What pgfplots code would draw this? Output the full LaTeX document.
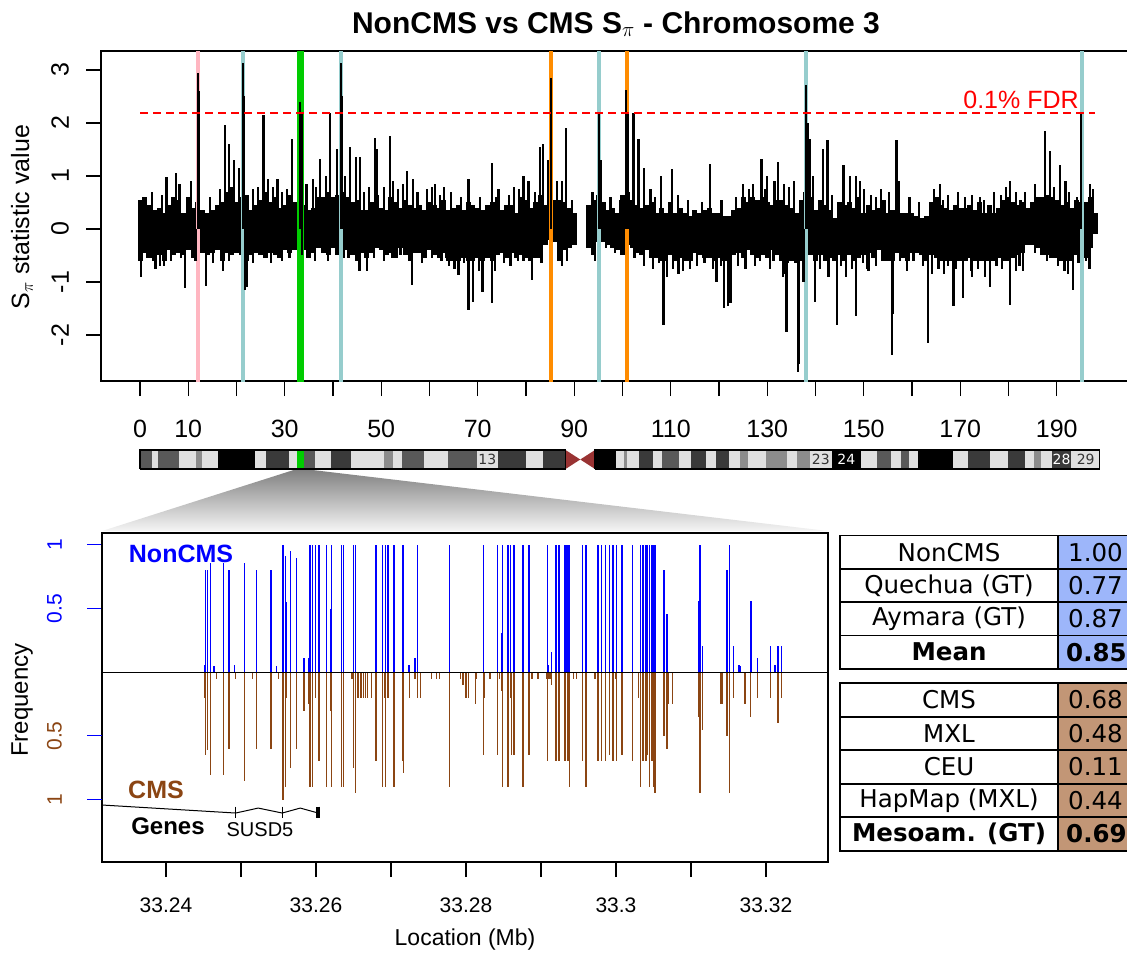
\documentclass[border=0pt]{standalone}
\usepackage{pgfplots}
\usepackage{pgfplotstable}
\pgfplotsset{compat=1.18}
\usepackage{fontspec}
\setmainfont{Liberation Sans}
\newfontfamily\dejavu{DejaVu Sans}
\newcommand{\fs}[1]{\fontsize{#1}{#1}\selectfont}

\definecolor{cmsbrown}{HTML}{8B4513}
\definecolor{hlpink}{HTML}{FFB6C1}
\definecolor{hlteal}{HTML}{96CDCD}
\definecolor{hlgreen}{HTML}{00CC00}
\definecolor{hlorange}{HTML}{FF8C00}
\definecolor{bandA}{HTML}{595959}
\definecolor{bandB}{HTML}{3A3A3A}
\definecolor{bandC}{HTML}{8C8C8C}
\definecolor{bandL}{HTML}{E0E0E0}
\definecolor{cenred}{HTML}{993333}
\definecolor{tabblue}{HTML}{9DB6FA}
\definecolor{tabbrown}{HTML}{C29676}

% S_pi along chromosome 3: per-Mb upper and lower envelope of the dense core
\pgfplotstableread{
x hi lo
0 0.55 -0.6
1 0.6 -0.45
2 0.45 -0.55
3 0.35 -0.6
4 0.4 -0.5
5 0.3 -0.6
6 0.45 -0.4
7 0.6 -0.5
8 0.55 -0.45
9 0.3 -0.5
10 0.6 -0.4
11 0.4 -0.55
12 0.5 -0.5
13 0.35 -0.45
14 0.3 -0.5
15 0.35 -0.45
16 0.45 -0.4
17 0.5 -0.6
18 0.7 -0.45
19 0.8 -0.5
20 0.5 -0.45
21 0.6 -0.5
22 0.65 -0.6
23 0.35 -0.5
24 0.45 -0.45
25 0.55 -0.5
26 0.7 -0.55
27 0.5 -0.45
28 0.6 -0.5
29 0.4 -0.55
30 0.45 -0.4
31 0.65 -0.45
32 0.5 -0.4
33 0.7 -0.35
34 0.45 -0.4
35 0.35 -0.55
36 0.4 -0.45
37 0.6 -0.35
38 0.6 -0.45
39 0.7 -0.5
40 0.6 -0.35
41 0.65 -0.5
42 0.7 -0.55
43 0.6 -0.4
44 0.5 -0.5
45 0.55 -0.6
46 0.35 -0.45
47 0.35 -0.55
48 0.5 -0.45
49 0.65 -0.35
50 0.4 -0.4
51 0.35 -0.5
52 0.6 -0.45
53 0.5 -0.55
54 0.4 -0.35
55 0.55 -0.5
56 0.45 -0.6
57 0.4 -0.45
58 0.45 -0.45
59 0.35 -0.55
60 0.5 -0.4
61 0.45 -0.5
62 0.4 -0.55
63 0.55 -0.45
64 0.35 -0.6
65 0.4 -0.6
66 0.45 -0.6
67 0.35 -0.55
68 0.5 -0.6
69 0.45 -0.6
70 0.4 -0.55
71 0.35 -0.6
72 0.45 -0.55
73 0.5 -0.6
74 0.6 -0.5
75 0.35 -0.45
76 0.45 -0.55
77 0.45 -0.45
78 0.3 -0.55
79 0.6 -0.5
80 0.55 -0.55
81 0.4 -0.6
82 0.5 -0.55
83 0.65 -0.55
84 0.45 -0.3
85 0.55 -0.2
86 0.55 -0.25
87 0.55 -0.6
88 0.5 -0.4
89 0.4 -0.35
90 0.3 -0.3
93 0.45 -0.35
94 0.55 -0.5
95 0.65 -0.25
96 0.5 -0.25
97 0.35 -0.3
98 0.4 -0.35
99 0.3 -0.4
100 0.65 -0.5
101 0.7 -0.3
102 0.55 -0.35
103 0.45 -0.45
104 0.4 -0.5
105 0.45 -0.4
106 0.5 -0.55
107 0.3 -0.55
108 0.4 -0.6
109 0.3 -0.6
110 0.5 -0.5
111 0.3 -0.6
112 0.4 -0.55
113 0.3 -0.6
114 0.25 -0.6
115 0.35 -0.45
116 0.3 -0.5
117 0.35 -0.55
118 0.4 -0.55
119 0.3 -0.6
120 0.3 -0.55
121 0.25 -0.6
122 0.25 -0.6
123 0.35 -0.5
124 0.4 -0.45
125 0.6 -0.55
126 0.5 -0.4
127 0.6 -0.5
128 0.55 -0.55
129 0.6 -0.5
130 0.5 -0.55
131 0.45 -0.4
132 0.55 -0.5
133 0.55 -0.6
134 0.45 -0.65
135 0.4 -0.6
136 0.3 -0.65
137 0.55 -0.6
138 0.7 -0.55
139 0.6 -0.5
140 0.35 -0.6
141 0.55 -0.5
142 0.45 -0.6
143 0.35 -0.55
144 0.2 -0.6
145 0.5 -0.5
146 0.45 -0.6
147 0.5 -0.5
148 0.4 -0.6
149 0.6 -0.55
150 0.3 -0.5
151 0.45 -0.45
152 0.35 -0.55
153 0.4 -0.4
154 0.55 -0.6
155 0.3 -0.6
156 0.35 -0.6
157 0.5 -0.45
158 0.3 -0.55
159 0.3 -0.6
160 0.3 -0.45
161 0.25 -0.45
162 0.2 -0.5
163 0.25 -0.6
164 0.5 -0.5
165 0.6 -0.55
166 0.45 -0.6
167 0.4 -0.6
168 0.35 -0.6
169 0.45 -0.6
170 0.4 -0.6
171 0.4 -0.6
172 0.45 -0.55
173 0.35 -0.6
174 0.5 -0.6
175 0.3 -0.6
176 0.45 -0.6
177 0.3 -0.6
178 0.4 -0.55
179 0.55 -0.6
180 0.6 -0.6
181 0.5 -0.55
182 0.45 -0.5
183 0.5 -0.45
184 0.4 -0.3
185 0.5 -0.3
186 0.6 -0.35
187 0.6 -0.5
188 0.65 -0.5
189 0.6 -0.55
190 0.55 -0.55
191 0.45 -0.6
192 0.5 -0.6
193 0.4 -0.6
194 0.55 -0.5
195 0.5 -0.4
196 0.5 -0.55
197 0.6 -0.35
198 0.3 -0.1
}\sband

% Narrow excursions above the core
\pgfplotstableread{
x y
2.5 0.7
4.5 0.65
5.5 0.98
7.5 1.05
8.2 0.85
10.5 0.9
12.0 2.95
12.2 2.6
14.5 0.6
16.5 0.75
17.6 1.96
18.5 1.6
19.5 1.3
20.5 1.15
21.3 3.13
21.5 2.5
23.5 0.75
24.5 0.8
25.6 2.15
26.5 0.95
27.5 0.8
28.5 0.95
29.5 0.7
30.5 0.75
31.5 1.7
33.2 2.4
33.5 2.2
34.5 0.85
35.8 0.95
36.5 0.8
37.3 1.32
38.5 1.0
39.4 2.18
40.8 1.5
41.7 3.13
41.9 2.5
42.5 1.0
43.5 1.55
44.7 1.35
45.6 1.36
46.5 0.7
47.5 0.8
48.7 1.72
49.0 1.5
50.5 0.8
51.8 1.75
52.5 0.9
53.5 0.75
54.5 0.85
55.3 1.1
56.6 0.95
57.5 0.7
59.5 0.75
60.5 0.8
61.1 0.85
62.2 0.65
63.0 0.8
64.5 0.7
66.5 0.6
68.1 0.95
70.5 0.6
72.9 1.25
74.3 0.75
76.5 0.65
77.5 0.8
78.6 0.75
79.5 1.0
80.5 0.9
81.8 0.7
82.9 1.55
83.6 1.6
84.6 1.3
85.2 2.85
86.5 0.9
87.5 0.9
88.3 1.9
89.5 0.55
93.8 0.7
95.2 2.2
95.5 1.3
97.5 0.6
99.5 0.55
100.8 2.62
101.2 2.2
102.3 2.18
103.3 1.7
104.5 1.15
105.8 0.75
106.8 0.6
108.0 1.0
110.2 1.13
111.5 0.65
113.5 0.55
116.5 0.5
118.1 1.23
120.5 0.55
123.5 0.6
125.0 0.85
126.2 0.75
127.0 0.85
128.8 1.32
129.5 0.75
130.0 1.0
131.5 0.9
132.3 1.26
133.5 0.85
134.5 0.8
135.6 0.9
138.0 2.72
138.5 2.0
138.9 1.7
139.5 1.0
141.6 1.5
142.5 1.67
143.5 0.65
145.8 1.2
147.2 1.0
148.4 1.0
149.3 0.9
150.0 0.75
151.5 0.65
152.5 0.6
153.5 0.75
155.3 0.7
156.8 1.67
157.2 0.9
159.5 0.6
161.5 0.5
164.5 0.75
165.8 0.85
166.5 0.55
167.5 0.65
169.5 0.7
171.0 0.6
172.5 0.65
174.1 0.6
175.0 0.55
177.0 0.7
178.5 0.65
179.5 0.8
180.3 0.9
181.5 0.7
182.5 0.55
183.5 0.7
185.5 0.85
187.6 1.85
188.6 1.48
189.5 0.8
190.7 1.2
191.8 0.9
192.5 0.7
194.2 0.6
195.1 2.21
196.9 0.85
197.5 0.75
}\spkhi

% Narrow excursions below the core
\pgfplotstableread{
x y
0.2 -0.9
1.5 -0.55
3.2 -0.75
4.2 -0.7
5.0 -0.7
6.5 -0.6
8.5 -0.55
9.4 -1.12
11.5 -0.6
13.6 -1.08
15.2 -0.65
17.2 -0.8
18.5 -0.6
21.7 -1.15
22.1 -1.1
23.5 -0.65
27.2 -0.65
29.4 -0.6
31.0 -0.55
33.5 -0.5
36.2 -0.6
39.0 -0.6
43.2 -0.55
45.5 -0.8
47.1 -0.8
48.5 -0.55
50.6 -0.6
52.2 -0.55
54.0 -0.5
56.3 -1.05
58.4 -0.65
60.6 -0.55
62.5 -0.6
63.5 -0.55
64.0 -0.7
65.2 -0.75
66.0 -0.86
67.2 -0.65
68.1 -1.53
69.0 -1.37
70.2 -0.8
71.0 -1.18
72.9 -1.4
73.6 -0.8
75.5 -0.65
76.8 -0.7
78.3 -0.6
79.5 -0.6
81.2 -0.96
83.2 -0.65
87.4 -0.7
88.5 -0.6
94.3 -0.6
96.5 -0.35
98.5 -0.45
102.5 -0.55
104.5 -0.7
106.4 -0.75
107.6 -0.65
108.5 -1.81
109.3 -0.9
110.5 -0.75
111.6 -0.85
112.6 -0.8
114.0 -0.75
115.5 -0.7
117.0 -0.65
118.8 -0.75
119.5 -1.0
120.4 -0.7
121.1 -1.5
121.8 -1.45
122.4 -1.4
124.0 -0.7
125.5 -0.75
127.5 -0.7
128.5 -0.6
130.5 -0.75
131.3 -0.6
133.2 -0.9
133.8 -0.85
134.0 -1.94
136.3 -2.7
136.5 -2.55
137.5 -1.0
139.9 -1.37
141.0 -0.75
142.7 -0.9
144.4 -1.81
145.3 -0.7
146.3 -0.9
147.5 -0.75
148.4 -1.65
149.8 -0.65
150.7 -0.75
151.0 -0.8
152.6 -0.7
153.8 -0.6
155.8 -2.38
156.1 -1.6
157.5 -0.6
158.9 -0.8
160.3 -0.6
162.3 -0.7
163.4 -2.16
164.2 -0.85
165.5 -0.75
166.6 -0.85
167.4 -0.7
168.6 -1.46
169.2 -0.75
170.6 -1.3
172.2 -0.8
172.5 -0.9
173.6 -0.75
175.2 -0.9
176.2 -1.1
177.5 -0.7
178.7 -0.75
180.3 -1.43
181.5 -0.8
182.3 -0.7
183.0 -0.8
185.5 -0.45
188.0 -0.6
190.3 -0.7
191.6 -0.8
192.3 -0.85
193.4 -1.15
194.5 -0.65
196.0 -0.6
196.8 -0.75
}\spklo

% Allele frequency per SNP in the zoomed window (NonCMS up, CMS down)
\pgfplotstableread{
x f
33.2451 0.06
33.2453 0.80
33.2455 0.80
33.2459 0.86
33.2464 0.05
33.2477 0.86
33.2484 0.80
33.2491 0.06
33.2505 0.86
33.2521 0.80
33.2540 0.80
33.2547 0.05
33.2556 1.00
33.2559 0.91
33.2561 0.55
33.2566 0.955
33.2574 0.90
33.2584 0.11
33.2590 0.11
33.2592 1.00
33.2595 1.00
33.2599 1.00
33.2604 1.00
33.2614 1.00
33.2619 0.50
33.2621 1.00
33.2634 1.00
33.2637 1.00
33.2650 1.00
33.2653 1.00
33.2680 1.00
33.2689 1.00
33.2693 1.00
33.2696 1.00
33.2704 1.00
33.2715 1.00
33.2717 1.00
33.2724 0.06
33.2732 0.11
33.2735 1.00
33.2778 1.00
33.2823 1.00
33.2842 1.00
33.2848 0.31
33.2849 1.00
33.2856 1.00
33.2859 1.00
33.2863 1.00
33.2865 1.00
33.2876 1.00
33.2884 1.00
33.2885 0.065
33.2909 1.00
33.2910 0.06
33.2914 0.16
33.2920 1.00
33.2924 1.00
33.2931 1.00
33.2932 1.00
33.2934 1.00
33.2936 1.00
33.2938 1.00
33.2955 1.00
33.2960 1.00
33.2976 1.00
33.2981 1.00
33.2986 1.00
33.2991 1.00
33.2996 1.00
33.3001 1.00
33.3008 1.00
33.3022 1.00
33.3033 1.00
33.3036 1.00
33.3037 1.00
33.3040 1.00
33.3042 1.00
33.3045 1.00
33.3048 1.00
33.3050 1.00
33.3052 1.00
33.3064 0.80
33.3068 0.46
33.3110 0.56
33.3112 1.00
33.3115 0.21
33.3148 0.80
33.3151 1.00
33.3157 0.21
33.3164 0.06
33.3166 0.05
33.3180 0.56
33.3189 0.11
33.3206 0.21
33.3212 0.06
33.3216 0.21
33.3221 0.21
}\noncms

\pgfplotstableread{
x f
33.2451 -0.20
33.2453 -0.65
33.2455 -0.61
33.2459 -0.81
33.2467 -0.05
33.2477 -0.81
33.2484 -0.60
33.2493 -0.05
33.2505 -0.85
33.2515 -0.05
33.2521 -0.60
33.2540 -0.60
33.2550 -0.05
33.2556 -1.00
33.2559 -0.90
33.2561 -0.20
33.2566 -0.75
33.2574 -0.60
33.2584 -0.30
33.2590 -0.25
33.2592 -0.90
33.2595 -0.90
33.2599 -0.20
33.2604 -0.70
33.2614 -0.90
33.2619 -0.30
33.2621 -0.90
33.2634 -0.90
33.2637 -0.90
33.2648 -0.05
33.2650 -0.75
33.2653 -0.95
33.2656 -0.20
33.2660 -0.20
33.2663 -0.20
33.2666 -0.20
33.2669 -0.20
33.2674 -0.20
33.2680 -0.70
33.2689 -0.90
33.2691 -0.20
33.2693 -0.90
33.2696 -0.20
33.2704 -0.90
33.2715 -0.70
33.2717 -0.79
33.2725 -0.20
33.2732 -0.05
33.2735 -0.20
33.2739 -0.20
33.2754 -0.05
33.2761 -0.05
33.2765 -0.05
33.2778 -0.90
33.2793 -0.05
33.2796 -0.10
33.2800 -0.20
33.2803 -0.20
33.2813 -0.25
33.2814 -0.05
33.2823 -0.65
33.2825 -0.20
33.2832 -0.05
33.2842 -0.65
33.2845 -0.05
33.2848 -0.15
33.2849 -0.90
33.2856 -0.90
33.2859 -0.20
33.2861 -0.65
33.2863 -0.65
33.2865 -0.65
33.2876 -0.90
33.2884 -0.65
33.2888 -0.05
33.2896 -0.05
33.2907 -0.05
33.2909 -0.70
33.2910 -0.05
33.2912 -0.05
33.2914 -0.10
33.2920 -0.70
33.2924 -0.70
33.2931 -0.70
33.2933 -0.70
33.2936 -0.70
33.2938 -0.90
33.2943 -0.05
33.2947 -0.05
33.2955 -0.70
33.2960 -0.90
33.2972 -0.05
33.2976 -0.70
33.2981 -0.70
33.2986 -0.70
33.2991 -0.65
33.2996 -0.70
33.2999 -0.05
33.3001 -0.70
33.3008 -0.65
33.3022 -0.70
33.3030 -0.20
33.3033 -0.90
33.3036 -0.70
33.3037 -0.70
33.3040 -0.70
33.3042 -0.65
33.3045 -0.90
33.3048 -0.70
33.3050 -0.90
33.3052 -0.95
33.3064 -0.50
33.3068 -0.60
33.3070 -0.25
33.3075 -0.25
33.3110 -0.35
33.3112 -0.95
33.3115 -0.45
33.3140 -0.25
33.3142 -0.25
33.3148 -0.50
33.3151 -0.95
33.3157 -0.20
33.3172 -0.25
33.3179 -0.35
33.3189 -0.20
33.3206 -0.20
33.3216 -0.40
33.3221 -0.20
}\cms

% one cytoband: start (Mb), end (Mb), colour
\newcommand{\band}[3]{\addplot[fill=#3, draw=none] coordinates {(#1,0)(#1,1)(#2,1)(#2,0)};}
% highlighted position in the top panel
\newcommand{\vmark}[3]{\addplot[#2, line width=#3] coordinates {(#1,-5)(#1,5)};}

\begin{document}
\begin{tikzpicture}[x=1pt,y=-1pt]
\useasboundingbox (0,0) rectangle (1127,956);
\clip (0,0) rectangle (1127,956);

% zoom wedge from the highlighted band to the detail panel
\shade[top color=black!50, bottom color=black!4]
  (296.8,469) -- (304,469) -- (828,531) -- (102,531) -- cycle;

%------------------------------------------------------------ genome-wide panel
\begin{axis}[
  at={(101pt,-381pt)}, anchor=south west,
  width=1030pt, height=330pt, scale only axis,
  xmin=-8.083, xmax=205.39, ymin=-2.868, ymax=3.358,
  axis line style={line width=1.6pt},
  tick align=outside, major tick length=15pt,
  xtick pos=bottom, ytick pos=left,
  xtick={0,10,...,190}, xticklabels={},
  xtick style={line width=1.3pt, black},
  ytick={-2,-1,0,1,2,3}, yticklabels={-2,-1,0,1,2,3},
  ytick style={line width=1.3pt, black},
  yticklabel style={rotate=90, anchor=south, inner sep=0pt, yshift=17pt, font=\fs{25}},
]
\addplot[ycomb, black, line width=5pt] table[x=x, y=hi] \sband;
\addplot[ycomb, black, line width=5pt] table[x=x, y=lo] \sband;
\vmark{12.0}{hlpink}{4pt}
\vmark{21.3}{hlteal}{4pt}
\vmark{33.2}{hlgreen}{7pt}
\vmark{41.7}{hlteal}{4pt}
\vmark{85.1}{hlorange}{4pt}
\vmark{95.2}{hlteal}{4pt}
\vmark{100.9}{hlorange}{4pt}
\vmark{138.0}{hlteal}{4pt}
\vmark{195.2}{hlteal}{4pt}
\addplot[ycomb, black, line width=2.2pt] table[x=x, y=y] \spkhi;
\addplot[ycomb, black, line width=2.2pt] table[x=x, y=y] \spklo;
\addplot[red, line width=2pt, dash pattern=on 8pt off 5pt] coordinates {(0,2.18)(198,2.18)};
\end{axis}

%------------------------------------------------------------ ideogram
\begin{axis}[
  at={(101pt,-469pt)}, anchor=south west,
  width=1030pt, height=19pt, scale only axis,
  xmin=-8.083, xmax=205.39, ymin=0, ymax=1,
  axis line style={draw=none}, major tick length=0pt,
  ytick=\empty,
  xtick={0,10,30,50,70,90,110,130,150,170,190},
  xticklabels={0,10,30,50,70,90,110,130,150,170,190},
  xticklabel pos=right, xtick pos=right,
  xticklabel style={anchor=south, inner sep=0pt, yshift=12pt, font=\fs{25}},
  clip=false,
]
\band{0}{88.2}{bandL}
\band{94.3}{198.9}{bandL}
\band{0}{2.56}{bandA}
\band{3.66}{8.15}{bandA}
\band{11.6}{12.85}{bandC}
\band{16.1}{23.8}{black}
\band{26.1}{30.9}{bandB}
\band{32.5}{36.3}{bandA}
\band{39.5}{43.7}{bandB}
\band{50.6}{52.4}{bandC}
\band{54.4}{58.9}{bandA}
\band{63.9}{69.8}{bandA}
\band{74.3}{79.9}{bandB}
\band{83.5}{88.2}{bandB}
\band{94.3}{98.7}{black}
\band{100.3}{101.0}{bandC}
\band{103.4}{106.4}{bandB}
\band{108.2}{111.8}{bandA}
\band{114.1}{117.3}{bandB}
\band{119.4}{122.1}{bandB}
\band{124.3}{126.1}{bandC}
\band{129.7}{134.0}{bandC}
\band{136.1}{138.9}{bandC}
\band{143.4}{149.4}{black}
\band{152.7}{155.6}{bandA}
\band{157.7}{159.4}{bandA}
\band{161.3}{168.4}{black}
\band{171.7}{176.2}{bandB}
\band{180.0}{183.4}{bandB}
\band{185.3}{186.7}{bandC}
\band{189.0}{193.0}{bandB}
\band{32.5}{34.0}{hlgreen}
\addplot[fill=cenred, draw=none] coordinates {(88.2,0)(88.2,1)(91.25,0.5)};
\addplot[fill=cenred, draw=none] coordinates {(94.3,0)(94.3,1)(91.25,0.5)};
\addplot[black, line width=1.2pt] coordinates {(0,0)(0,1)(88.2,1)(88.2,0)(0,0)};
\addplot[black, line width=1.2pt] coordinates {(94.3,0)(94.3,1)(198.9,1)(198.9,0)(94.3,0)};
\node[font=\dejavu\fs{14}, text=black!80] at (axis cs:72.0,0.5) {13};
\node[font=\dejavu\fs{14}, text=black!80] at (axis cs:141.1,0.5) {23};
\node[font=\dejavu\fs{14}, text=white] at (axis cs:146.4,0.5) {24};
\node[font=\dejavu\fs{14}, text=white] at (axis cs:191.0,0.5) {28};
\node[font=\dejavu\fs{14}, text=black!80] at (axis cs:196.0,0.5) {29};
\end{axis}

%------------------------------------------------------------ detail panel
\begin{axis}[
  at={(102pt,-862pt)}, anchor=south west,
  width=726pt, height=329pt, scale only axis,
  xmin=33.23147, xmax=33.32827, ymin=-1.4896, ymax=1.094,
  axis line style={line width=1.3pt},
  tick align=outside, major tick length=15pt,
  xtick pos=bottom, ytick pos=left,
  xtick={33.24,33.25,...,33.325},
  xticklabels={33.24,,33.26,,33.28,,33.3,,33.32},
  xtick style={line width=1.1pt, black},
  xticklabel style={font=\fs{21}, inner sep=0pt, yshift=-21pt},
  ytick={0.5,1}, yticklabels={0.5,1},
  ytick style={blue, line width=1pt},
  yticklabel style={rotate=90, anchor=south, inner sep=0pt, yshift=25pt, font=\fs{21}, text=blue},
  extra y ticks={-1,-0.5}, extra y tick labels={1,0.5},
  extra y tick style={tick style={cmsbrown, line width=1pt},
     yticklabel style={text=cmsbrown}},
]
\addplot[ycomb, blue, line width=1.4pt] table[x=x, y=f] \noncms;
\addplot[ycomb, cmsbrown, line width=1.4pt] table[x=x, y=f] \cms;
\addplot[black, line width=0.9pt] coordinates {(33.23147,0)(33.32827,0)};
% SUSD5 gene model
\addplot[black, line width=1pt] coordinates {(33.23147,-1.042)(33.2493,-1.105)};
\addplot[black, line width=1pt] coordinates {(33.2493,-1.105)(33.2523,-1.066)(33.2555,-1.105)(33.2579,-1.066)(33.2603,-1.105)};
\addplot[black, line width=1.2pt] coordinates {(33.2493,-1.055)(33.2493,-1.146)};
\addplot[black, line width=1.2pt] coordinates {(33.2555,-1.055)(33.2555,-1.146)};
\addplot[black, line width=3.5pt] coordinates {(33.2603,-1.055)(33.2603,-1.146)};
\end{axis}

%------------------------------------------------------------ text
\node[font=\bfseries\fs{30}, anchor=base] at (616,33) {NonCMS vs CMS S$_\pi$ - Chromosome 3};
\node[font=\fs{25}, rotate=90] at (22,217) {S$_\pi$ statistic value};
\node[font=\fs{25}, text=red, anchor=base] at (1021,108) {0.1\% FDR};
\node[font=\fs{24}, rotate=90] at (22,700) {Frequency};
\node[font=\fs{23}] at (465,940) {Location (Mb)};
\node[font=\bfseries\fs{25}, text=blue] at (181,554) {NonCMS};
\node[font=\bfseries\fs{25}, text=cmsbrown] at (156,790) {CMS};
\node[font=\bfseries\fs{24}] at (168,826) {Genes};
\node[font=\fs{20}] at (260,830) {SUSD5};

%------------------------------------------------------------ summary tables
\begin{scope}[line width=1.8pt]
\fill[tabblue] (1058,535.5) rectangle (1136,669);
\draw (840,535.5) rectangle (1136,669);
\draw (1058,535.5) -- (1058,669);
\draw (840,569) -- (1136,569);
\draw (840,602) -- (1136,602);
\draw (840,635.5) -- (1136,635.5);
\fill[tabbrown] (1058,682.7) rectangle (1136,850.7);
\draw (840,682.7) rectangle (1136,850.7);
\draw (1058,682.7) -- (1058,850.7);
\draw (840,716.7) -- (1136,716.7);
\draw (840,750) -- (1136,750);
\draw (840,784) -- (1136,784);
\draw (840,817.3) -- (1136,817.3);
\end{scope}
\begin{scope}[every node/.style={font=\dejavu\fs{24.5}}]
\node at (949,552.2) {NonCMS};
\node at (949,585.5) {Quechua (GT)};
\node at (949,618.7) {Aymara (GT)};
\node[font=\dejavu\bfseries\fs{24.5}] at (949,652.2) {Mean};
\node[font=\dejavu\bfseries\fs{24.5}] at (949,834) {Mesoam. (GT)};
\node at (949,699.7) {CMS};
\node at (949,733.3) {MXL};
\node at (949,767) {CEU};
\node at (949,800.6) {HapMap (MXL)};
\end{scope}
\begin{scope}[every node/.style={font=\dejavu\fs{24.5}, anchor=west, inner sep=0pt}]
\node at (1068,552.2) {1.00};
\node at (1068,585.5) {0.77};
\node at (1068,618.7) {0.87};
\node[font=\dejavu\bfseries\fs{24.5}] at (1066,652.2) {0.85};
\node at (1068,699.7) {0.68};
\node at (1068,733.3) {0.48};
\node at (1068,767) {0.11};
\node at (1068,800.6) {0.44};
\node[font=\dejavu\bfseries\fs{24.5}] at (1066,834) {0.69};
\end{scope}
\end{tikzpicture}
\end{document}
